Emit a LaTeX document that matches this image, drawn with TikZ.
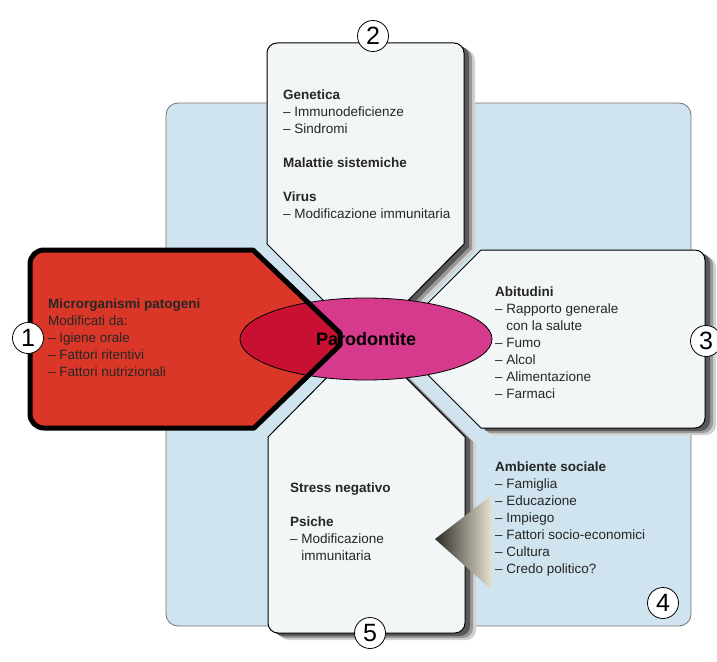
\documentclass[tikz,border=0pt]{standalone}
\usepackage{fontspec}
\setmainfont{Liberation Sans}
\usetikzlibrary{shapes.geometric}

\definecolor{azzurro}{RGB}{207,228,238}
\definecolor{bianco}{RGB}{242,246,247}
\definecolor{rosso}{RGB}{218,55,40}
\definecolor{cremisi}{RGB}{200,16,50}
\definecolor{fucsia}{RGB}{214,58,140}
\definecolor{scuro}{RGB}{45,42,35}
\definecolor{chiaro}{RGB}{232,228,212}

\begin{document}
\begin{tikzpicture}[x=1pt,y=-1pt,
  pannello/.style={fill=bianco,draw=black,line width=1pt},
  num node/.style={circle,draw,fill=white,line width=0.8pt,inner sep=0pt,minimum size=31pt,font=\fontsize{25}{25}\selectfont},
  testo/.style={anchor=north west,align=left,inner sep=0pt,text=black!85,font=\fontsize{13.5}{17}\selectfont}]

  \useasboundingbox (0,0) rectangle (717,661);
  \fill[white] (0,0) rectangle (717,661);
  \draw[fill=azzurro,draw=black!55,line width=0.8pt,rounded corners=12pt] (166,103) rectangle (691,626);

  \def\pdue{(366,343) -- (267,244) -- (267,150) [rounded corners=10pt] -- (267,43) -- (464,43) -- (464,150) [sharp corners] -- (464,244) -- cycle}
  \def\ptre{(392,339) -- (481,250) -- (600,250) [rounded corners=10pt] -- (705,250) -- (705,428) -- (600,428) [sharp corners] -- (481,428) -- cycle}
  \def\pcinque{(366,338) -- (465,437) -- (465,540) [rounded corners=10pt] -- (465,633) -- (268,633) -- (268,540) [sharp corners] -- (268,437) -- cycle}
  \def\puno{(340,333) -- (253,250) -- (140,250) [rounded corners=14pt] -- (30,250) -- (30,428) -- (140,428) [sharp corners] -- (254,428) -- (340,345) -- cycle}

  \foreach \p in {\pdue,\ptre,\pcinque}{
    \fill[black!18,shift={(11,7)}] \p;
    \fill[black!40,shift={(8,5)}] \p;
    \fill[black!65,shift={(5,3)}] \p;
    \path[pannello] \p;
  }

  \shade[left color=scuro,right color=chiaro] (435,539) -- (492,495) -- (492,590) -- cycle;

  \path[fill=rosso,draw=black,line width=5pt,line join=round] \puno;

  \fill[fucsia] (366,339) ellipse [x radius=126, y radius=41];
  \begin{scope}
    \clip (366,339) ellipse [x radius=126, y radius=41];
    \path[fill=cremisi,draw=black,line width=5pt,line join=round] \puno;
  \end{scope}
  \node[ellipse,draw,line width=0.8pt,minimum width=252pt,minimum height=82pt,inner sep=0pt,
        font=\fontsize{18}{18}\selectfont\bfseries] (paro) at (366,339) {Parodontite};

  \node[num node] (n1) at (28,338) {1};
  \node[num node] (n2) at (373,36) {2};
  \node[num node] (n3) at (706,341) {3};
  \node[num node] (n4) at (663,603) {4};
  \node[num node] (n5) at (370,633) {5};

  \node[testo] (t1) at (48,299) {\textbf{Microrganismi patogeni}\\Modificati da:\\– Igiene orale\\– Fattori ritentivi\\– Fattori nutrizionali};
  \node[testo] (t2) at (283,90) {\textbf{Genetica}\\– Immunodeficienze\\– Sindromi\\[17pt]\textbf{Malattie sistemiche}\\[17pt]\textbf{Virus}\\– Modificazione immunitaria};
  \node[testo] (t3) at (495,287) {\textbf{Abitudini}\\– Rapporto generale\\\phantom{– }con la salute\\– Fumo\\– Alcol\\– Alimentazione\\– Farmaci};
  \node[testo] (t4) at (495,462) {\textbf{Ambiente sociale}\\– Famiglia\\– Educazione\\– Impiego\\– Fattori socio-economici\\– Cultura\\– Credo politico?};
  \node[testo] (t5) at (290,483) {\textbf{Stress negativo}\\[17pt]\textbf{Psiche}\\– Modificazione\\\phantom{– }immunitaria};
\end{tikzpicture}
\end{document}
